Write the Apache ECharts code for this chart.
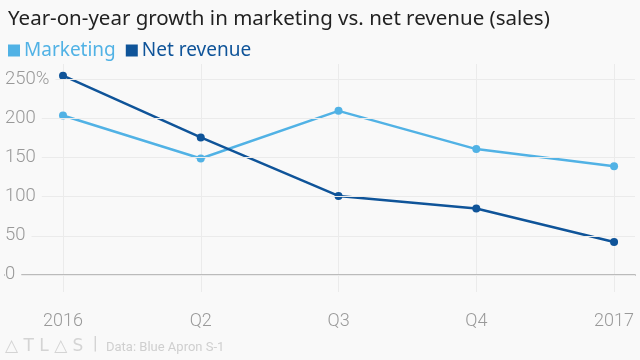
<!DOCTYPE html>
<html>
<head>
<meta charset="utf-8">
<script src="https://cdn.jsdelivr.net/npm/echarts@6/dist/echarts.min.js"></script>
<style>
html,body{margin:0;padding:0;background:#f9f9f9;}
#c{width:640px;height:360px;}
</style>
</head>
<body>
<div id="c"></div>
<script>
var categories = ['2016', 'Q2', 'Q3', 'Q4', '2017'];
var marketing = [204, 149, 210, 161, 139];
var netRevenue = [255, 176, 101, 85, 42];
var yTicks = [0, 50, 100, 150, 200, 250];
var xTicks = [0, 1, 2, 3, 4];

var chart = echarts.init(document.getElementById('c'));
function pairs(arr){ return arr.map(function(v,i){ return [i, v]; }); }
var axisFont = 'Roboto, "Liberation Sans", sans-serif';
var bg = '#f9f9f9';
chart.setOption({
  backgroundColor: bg,
  animation: false,
  title: {
    text: 'Year-on-year growth in marketing vs. net revenue (sales)',
    left: 3, top: 4,
    textStyle: { fontFamily: '"Noto Sans", sans-serif', fontSize: 20.5, fontWeight: 'normal', color: '#222' }
  },
  legend: {
    left: 3, top: 36,
    icon: 'rect', itemWidth: 12, itemHeight: 12, itemGap: 10,
    textStyle: { fontFamily: '"Noto Sans", sans-serif', fontSize: 19, padding: [0,0,0,-1] },
    data: [
      { name: 'Marketing', textStyle: { color: '#51b2e5' } },
      { name: 'Net revenue', textStyle: { color: '#0f5499' } }
    ]
  },
  grid: { left: 5, right: 5, top: 64, bottom: 68 },
  xAxis: {
    type: 'value', min: -0.421, max: 4.152,
    axisLine: { onZero: true, lineStyle: { color: '#bbb', width: 2 } },
    axisTick: { show: false, customValues: xTicks },
    axisLabel: {
      customValues: xTicks, margin: 20,
      fontFamily: axisFont, fontWeight: 300, fontSize: 18, color: '#999',
      formatter: function(v){ return categories[Math.round(v)]; }
    },
    splitLine: { show: true, lineStyle: { color: '#ebebeb', width: 1 } }
  },
  yAxis: {
    type: 'value', min: -22, max: 270, z: 3,
    axisLine: { show: false },
    axisTick: { show: false, customValues: yTicks },
    axisLabel: {
      customValues: yTicks, inside: true, margin: 0,
      fontFamily: axisFont, fontWeight: 300, fontSize: 18.5, color: '#999',
      backgroundColor: bg, padding: [2, 6, 2, 0],
      formatter: function(v){ return v === 250 ? '250%' : String(v); }
    },
    splitLine: { show: true, lineStyle: { color: '#ebebeb', width: 1 } }
  },
  series: [
    {
      name: 'Marketing', type: 'line', data: pairs(marketing),
      color: '#51b2e5', symbol: 'circle', symbolSize: 8,
      lineStyle: { width: 2.5 }, z: 2
    },
    {
      name: 'Net revenue', type: 'line', data: pairs(netRevenue),
      color: '#0f5499', symbol: 'circle', symbolSize: 8,
      lineStyle: { width: 2.5 }, z: 2
    }
  ],
  graphic: [
    { type: 'text', left: 5, top: 338, style: { text: '△ T L △ S', fontSize: 17, fill: '#d4d4d4', fontFamily: '"DejaVu Sans", sans-serif' } },
    { type: 'text', left: 93, top: 335, style: { text: '|', fontSize: 19, fill: '#d4d4d4', fontFamily: axisFont } },
    { type: 'text', left: 106, top: 341, style: { text: 'Data: Blue Apron S-1', fontSize: 13, fill: '#cfcfcf', fontFamily: axisFont } }
  ]
});
</script>
</body>
</html>
